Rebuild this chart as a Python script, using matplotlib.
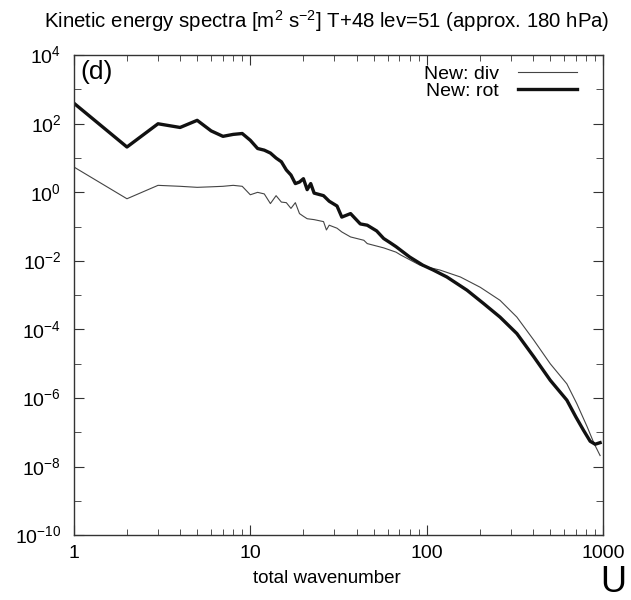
import numpy as np
import matplotlib.pyplot as plt
from matplotlib.ticker import LogLocator, NullFormatter, FixedLocator

plt.rcParams['font.family'] = ['Liberation Sans', 'DejaVu Sans']
plt.rcParams['mathtext.fontset'] = 'custom'
plt.rcParams['mathtext.rm'] = 'Liberation Sans'

# wavenumbers / spectra
k_rot = [1, 2, 3, 4, 5, 6, 7, 8, 9, 10, 11, 12, 13, 14, 15, 16, 17, 18, 19, 20,
         21, 22, 23, 26, 28, 31, 33, 37, 42, 46, 52, 57, 62, 67, 80, 95, 109,
         130, 169, 210, 260, 324, 404, 501, 622, 700, 773, 843, 900, 960]
e_rot = [400, 21, 100, 78, 126, 62, 43, 49, 52, 33, 19, 17, 14, 10, 7.8, 4.5,
         3.2, 1.8, 2.0, 2.5, 1.2, 1.8, 0.95, 0.8, 0.55, 0.4, 0.19, 0.24, 0.12,
         0.11, 0.075, 0.045, 0.034, 0.026, 0.013, 0.0075, 0.0054, 0.0034,
         0.0014, 5.7e-4, 2.3e-4, 7.6e-5, 1.6e-5, 3.3e-6, 8.7e-7, 2.8e-7,
         1.15e-7, 5.5e-8, 4.5e-8, 5e-8]

k_div = [1, 2, 3, 4, 5, 6, 7, 8, 9, 10, 11, 12, 13, 14, 15, 16, 17, 18, 19, 20,
         21, 23, 26, 27, 28, 31, 33, 37, 44, 46, 57, 67, 71, 92, 119, 155, 201,
         260, 324, 404, 501, 622, 708, 811, 888, 960]
e_div = [5.5, 0.65, 1.6, 1.5, 1.4, 1.45, 1.5, 1.6, 1.5, 0.85, 1.0, 0.9, 0.47,
         0.8, 0.52, 0.5, 0.34, 0.5, 0.24, 0.2, 0.17, 0.16, 0.14, 0.08, 0.11,
         0.09, 0.07, 0.05, 0.04, 0.032, 0.024, 0.018, 0.015, 0.0074, 0.0054,
         0.0034, 0.0017, 7.1e-4, 2.3e-4, 4.9e-5, 1e-5, 2.6e-6, 6.9e-7,
         1.45e-7, 4.7e-8, 2.1e-8]

fig = plt.figure(figsize=(6.31, 6.0), dpi=100)
ax = fig.add_axes([0.117, 0.108, 0.839, 0.8])

ax.plot(k_div, e_div, color='#444444', lw=0.8, label='New: div')
ax.plot(k_rot, e_rot, color='#111111', lw=2.4, label='New: rot')

ax.set_xscale('log')
ax.set_yscale('log')
ax.set_xlim(1, 1000)
ax.set_ylim(1e-10, 1e4)

ax.xaxis.set_major_locator(FixedLocator([1, 10, 100, 1000]))
ax.set_xticklabels(['1', '10', '100', '1000'])
ax.xaxis.set_minor_locator(LogLocator(base=10, subs=np.arange(2, 10)))
ax.xaxis.set_minor_formatter(NullFormatter())

ax.yaxis.set_major_locator(FixedLocator([10.0 ** p for p in range(-10, 5, 2)]))
ax.set_yticklabels(['$10^{%d}$' % p for p in range(-10, 5, 2)])
ax.yaxis.set_minor_locator(FixedLocator([10.0 ** p for p in range(-9, 4, 2)]))
ax.yaxis.set_minor_formatter(NullFormatter())

ax.tick_params(which='both', direction='in', top=True, right=True,
               labelsize=14, color='#333333')
ax.tick_params(which='major', length=7)
ax.tick_params(axis='x', which='major', pad=7)
ax.tick_params(axis='y', which='major', pad=9)
ax.tick_params(which='minor', length=4)
ax.tick_params(axis='y', which='minor', length=5)
for s in ax.spines.values():
    s.set_color('#333333')
    s.set_linewidth(1.0)

ax.set_xlabel('total wavenumber', fontsize=13.5, labelpad=6, x=0.478)
ax.set_title('Kinetic energy spectra [m$^2$ s$^{-2}$] T+48 lev=51 (approx. 180 hPa)',
             fontsize=14.7, pad=20, x=0.478)

ax.text(0.012, 0.99, '(d)', transform=ax.transAxes, fontsize=19,
        ha='left', va='top')
ax.legend(loc='upper right', bbox_to_anchor=(0.968, 1.0), frameon=False,
          markerfirst=False, fontsize=14, handlelength=3.0, handletextpad=1.0,
          borderpad=0.1, labelspacing=0.0, borderaxespad=0.4)

fig.text(0.972, 0.0, 'U', fontsize=26, ha='center', va='bottom')

fig.savefig('out.png', dpi=100)
